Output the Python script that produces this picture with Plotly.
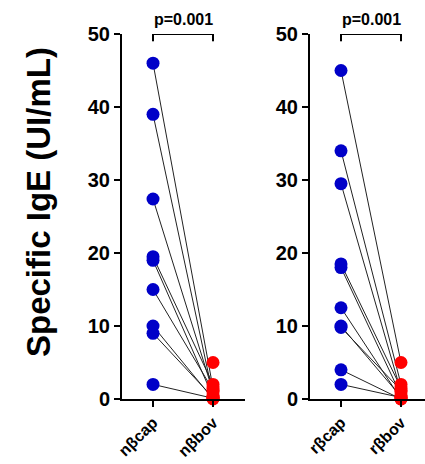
import plotly.graph_objects as go

# ---- data ----
categories_left = ["nβcap", "nβbov"]
categories_right = ["rβcap", "rβbov"]
n_cap = [46, 39, 27.4, 19.5, 19, 15, 10, 9, 2]
n_bov = [1.5, 0.5, 1, 2, 0.3, 1.2, 0, 0.2, 0.1]
n_bov_extra = [5]
r_cap = [45, 34, 29.5, 18.5, 18, 12.5, 10, 9.8, 4, 2]
r_bov = [5, 2, 1, 1.5, 0.5, 0, 0.3, 1.2, 0, 0.2]
y_ticks = [0, 10, 20, 30, 40, 50]
p_text = "p=0.001"
y_title = "Specific IgE (UI/mL)"

W, H = 425, 464
FONT = "Liberation Sans, Arial, sans-serif"
BLUE = "#0000C8"
RED = "#FF0000"

fig = go.Figure()


def add_panel(cap, bov, extra, xa, ya):
    lx, ly = [], []
    for a, b in zip(cap, bov):
        lx += [0, 1, None]
        ly += [a, b, None]
    fig.add_trace(go.Scatter(x=lx, y=ly, mode="lines", line=dict(color="#222", width=1),
                             xaxis=xa, yaxis=ya, hoverinfo="skip", cliponaxis=False))
    fig.add_trace(go.Scatter(x=[0] * len(cap), y=cap, mode="markers",
                             marker=dict(color=BLUE, size=13), xaxis=xa, yaxis=ya, cliponaxis=False))
    reds = list(bov) + list(extra)
    fig.add_trace(go.Scatter(x=[1] * len(reds), y=reds, mode="markers",
                             marker=dict(color=RED, size=13), xaxis=xa, yaxis=ya, cliponaxis=False))


add_panel(n_cap, n_bov, n_bov_extra, "x", "y")
add_panel(r_cap, r_bov, [], "x2", "y2")

axis_common = dict(showline=True, linecolor="black", linewidth=2, ticks="outside",
                   ticklen=6, tickwidth=2, tickcolor="black", showgrid=False, zeroline=False,
                   automargin=False)
yfont = dict(family=FONT, size=20, color="black", weight="bold")
xfont = dict(family=FONT, size=16, color="black", weight="bold")

fig.update_layout(
    width=W, height=H,
    margin=dict(l=0, r=0, t=34, b=65, autoexpand=False),
    plot_bgcolor="white", paper_bgcolor="white",
    showlegend=False,
    xaxis=dict(domain=[122 / W, 245 / W], range=[-0.517, 1.533], tickvals=[0, 1],
               ticktext=categories_left, tickangle=-45, tickfont=xfont, **axis_common),
    xaxis2=dict(domain=[310 / W, 1.0], range=[-0.517, 1.4], tickvals=[0, 1],
                ticktext=categories_right, tickangle=-45, tickfont=xfont, **axis_common),
    yaxis=dict(range=[0, 50], tickvals=y_ticks, anchor="x", ticklabelstandoff=0,
               tickfont=yfont, **axis_common),
    yaxis2=dict(range=[0, 50], tickvals=y_ticks, anchor="x2", ticklabelstandoff=0,
                tickfont=yfont, **axis_common),
)

# brackets & p-values
for xr, yr in (("x", "y"), ("x2", "y2")):
    fig.add_shape(type="line", xref=xr, yref=yr, x0=0, x1=1, y0=50, y1=50,
                  line=dict(color="black", width=2))
    for xv in (0, 1):
        fig.add_shape(type="line", xref=xr, yref=yr, x0=xv, x1=xv, y0=49.0, y1=50.9,
                      line=dict(color="black", width=2))
    fig.add_annotation(xref=xr, yref="paper", x=0.5, y=(399 - 20) / 365, text=p_text,
                       showarrow=False, yanchor="middle",
                       font=dict(family=FONT, size=16, color="black", weight="bold"))

fig.add_annotation(xref="paper", yref="paper", x=38 / W, y=(399 - 202) / 365, text=y_title,
                   textangle=-90, showarrow=False, xanchor="center", yanchor="middle",
                   font=dict(family=FONT, size=33, color="black", weight="bold"))

fig.write_html("out.html")
